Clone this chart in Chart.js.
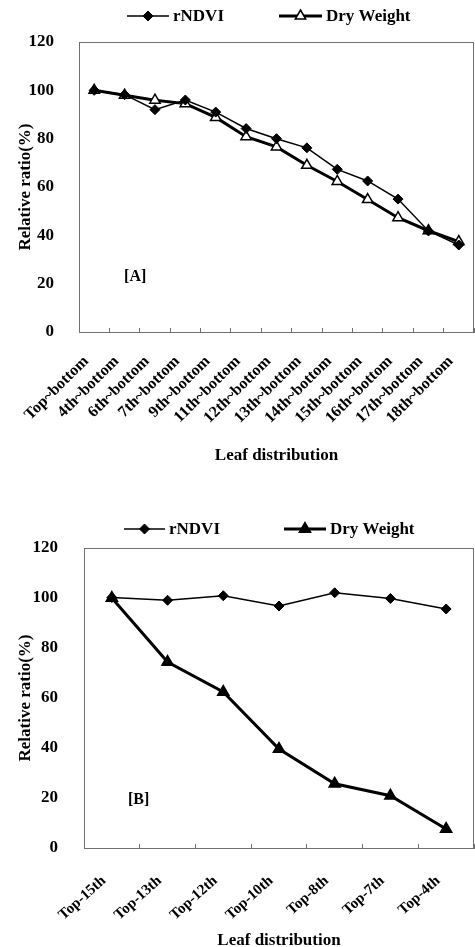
<!DOCTYPE html>
<html>
<head>
<meta charset="utf-8">
<script src="https://cdn.jsdelivr.net/npm/chart.js@4/dist/chart.umd.min.js"></script>
<style>
  body { margin: 0; background: #fff; width: 475px; height: 947px; overflow: hidden; }
  .box { position: absolute; left: 0; width: 475px; }
</style>
</head>
<body>
<div class="box" style="top:0;height:470px"><canvas id="chartA"></canvas></div>
<div class="box" style="top:480px;height:467px"><canvas id="chartB"></canvas></div>
<script>
// panel [A]
const labelsA = ['Top~bottom', '4th~bottom', '6th~bottom', '7th~bottom', '9th~bottom', '11th~bottom',
  '12th~bottom', '13th~bottom', '14th~bottom', '15th~bottom', '16th~bottom', '17th~bottom', '18th~bottom'];
const ndviA = [100, 98.2, 92, 96, 91, 84.2, 80, 76.2, 67.3, 62.5, 55, 41.8, 36];
const dryA = [100, 98, 95.9, 94.5, 88.8, 80.8, 76.6, 69, 62.3, 54.8, 47.3, 41.9, 37.4];

// panel [B]
const labelsB = ['Top-15th', 'Top-13th', 'Top-12th', 'Top-10th', 'Top-8th', 'Top-7th', 'Top-4th'];
const ndviB = [100.2, 99.1, 100.9, 96.8, 102.1, 99.8, 95.6];
const dryB = [100, 74.4, 62.4, 39.6, 25.7, 20.9, 7.6];

const yMin = 0, yMax = 120, yStep = 20;

Chart.defaults.font.family = '"Liberation Serif", "Times New Roman", serif';
Chart.defaults.font.weight = 'bold';
Chart.defaults.color = '#000';

const frameColor = '#707070';

function drawMarker(ctx, ds, x, y) {
  const r = ds.pointRadius;
  ctx.beginPath();
  if (ds.pointStyle === 'rectRot') {
    ctx.moveTo(x - r, y); ctx.lineTo(x, y - r); ctx.lineTo(x + r, y); ctx.lineTo(x, y + r);
  } else {
    let a = 0;
    ctx.moveTo(x + Math.sin(a) * r, y - Math.cos(a) * r);
    a += 2 * Math.PI / 3;
    ctx.lineTo(x + Math.sin(a) * r, y - Math.cos(a) * r);
    a += 2 * Math.PI / 3;
    ctx.lineTo(x + Math.sin(a) * r, y - Math.cos(a) * r);
  }
  ctx.closePath();
  ctx.fillStyle = ds.pointBackgroundColor;
  ctx.fill();
  ctx.lineWidth = ds.pointBorderWidth;
  ctx.strokeStyle = ds.pointBorderColor;
  ctx.stroke();
}

// frame box, line legend and panel tag
const decor = {
  id: 'decor',
  beforeDatasetsDraw(chart, args, opts) {
    const a = chart.chartArea, ctx = chart.ctx;
    ctx.save();
    ctx.strokeStyle = frameColor;
    ctx.lineWidth = 1;
    ctx.strokeRect(a.left + 0.5, a.top + 0.5, a.right - a.left - 1, a.bottom - a.top);
    ctx.restore();
  },
  afterDraw(chart, args, opts) {
    const ctx = chart.ctx;
    ctx.save();
    chart.data.datasets.forEach((ds, i) => {
      const it = opts.items[i];
      ctx.beginPath();
      ctx.moveTo(it.x, opts.y);
      ctx.lineTo(it.x + it.w, opts.y);
      ctx.lineWidth = ds.borderWidth;
      ctx.strokeStyle = ds.borderColor;
      ctx.stroke();
      drawMarker(ctx, ds, it.x + it.w / 2, opts.y);
      ctx.fillStyle = '#000';
      ctx.font = 'bold 17px "Liberation Serif", serif';
      ctx.textBaseline = 'middle';
      ctx.fillText(ds.label, it.x + it.w + 4, opts.y + 1);
    });
    const sx = chart.scales.x, sy = chart.scales.y;
    ctx.font = 'bold 16px "Liberation Serif", serif';
    ctx.textAlign = 'center';
    ctx.textBaseline = 'middle';
    ctx.fillText(opts.tag, sx.getPixelForValue(opts.tagAt[0]), sy.getPixelForValue(opts.tagAt[1]));
    ctx.restore();
  }
};

function makeChart(id, labels, ndvi, dry, dryFill, p) {
  return new Chart(document.getElementById(id), {
    type: 'line',
    data: {
      labels: labels,
      datasets: [{
        label: 'rNDVI',
        data: ndvi,
        borderColor: '#000',
        borderWidth: 1.5,
        pointStyle: 'rectRot',
        pointRadius: 5,
        pointBackgroundColor: '#000',
        pointBorderColor: '#000',
        pointBorderWidth: 1
      }, {
        label: 'Dry Weight',
        data: dry,
        borderColor: '#000',
        borderWidth: 3,
        pointStyle: 'triangle',
        pointRadius: p.triR,
        pointBackgroundColor: dryFill,
        pointBorderColor: '#000',
        pointBorderWidth: 1.5
      }]
    },
    options: {
      responsive: true,
      maintainAspectRatio: false,
      animation: false,
      layout: { autoPadding: false, padding: { top: p.top, right: 1, left: 0, bottom: 0 } },
      plugins: {
        legend: { display: false },
        tooltip: { enabled: false },
        decor: { y: p.legendY, items: p.legendItems, tag: p.tag, tagAt: p.tagAt }
      },
      scales: {
        x: {
          offset: true,
          grid: { display: true, drawOnChartArea: false, tickLength: -4, color: frameColor, offset: true },
          border: { display: true, color: frameColor },
          ticks: { autoSkip: false, minRotation: p.rot, maxRotation: p.rot, padding: p.tickPad,
            labelOffset: -8, font: { size: p.xFont, weight: 'bold' } },
          title: { display: true, text: 'Leaf distribution', font: { size: 17, weight: 'bold' },
            padding: { top: 0, bottom: p.titlePad } },
          afterFit: s => { s.height = p.xHeight; s.paddingLeft = 0; s.paddingRight = 0; }
        },
        y: {
          min: yMin, max: yMax,
          grid: { display: false },
          border: { display: true, color: frameColor },
          ticks: { stepSize: yStep, padding: p.yPad, font: { size: 17, weight: 'bold' } },
          title: { display: true, text: 'Relative ratio(%)', font: { size: 17, weight: 'bold' },
            padding: { top: 15, bottom: 0 } },
          afterFit: s => { s.width = p.yWidth; }
        }
      }
    },
    plugins: [decor]
  });
}

makeChart('chartA', labelsA, ndviA, dryA, '#fff', {
  top: 42, xHeight: 138, yWidth: 79, rot: 45, xFont: 16, tickPad: 24, titlePad: 4, yPad: 17, triR: 6,
  legendY: 16, legendItems: [{ x: 127, w: 42 }, { x: 279, w: 43 }], tag: '[A]', tagAt: [1.35, 22.8]
});

makeChart('chartB', labelsB, ndviB, dryB, '#000', {
  top: 68, xHeight: 99, yWidth: 84, rot: 42, xFont: 15, tickPad: 28, titlePad: -4, yPad: 18, triR: 6.5,
  legendY: 49, legendItems: [{ x: 124, w: 41 }, { x: 284, w: 42 }], tag: '[B]', tagAt: [0.48, 19.2]
});
</script>
</body>
</html>
